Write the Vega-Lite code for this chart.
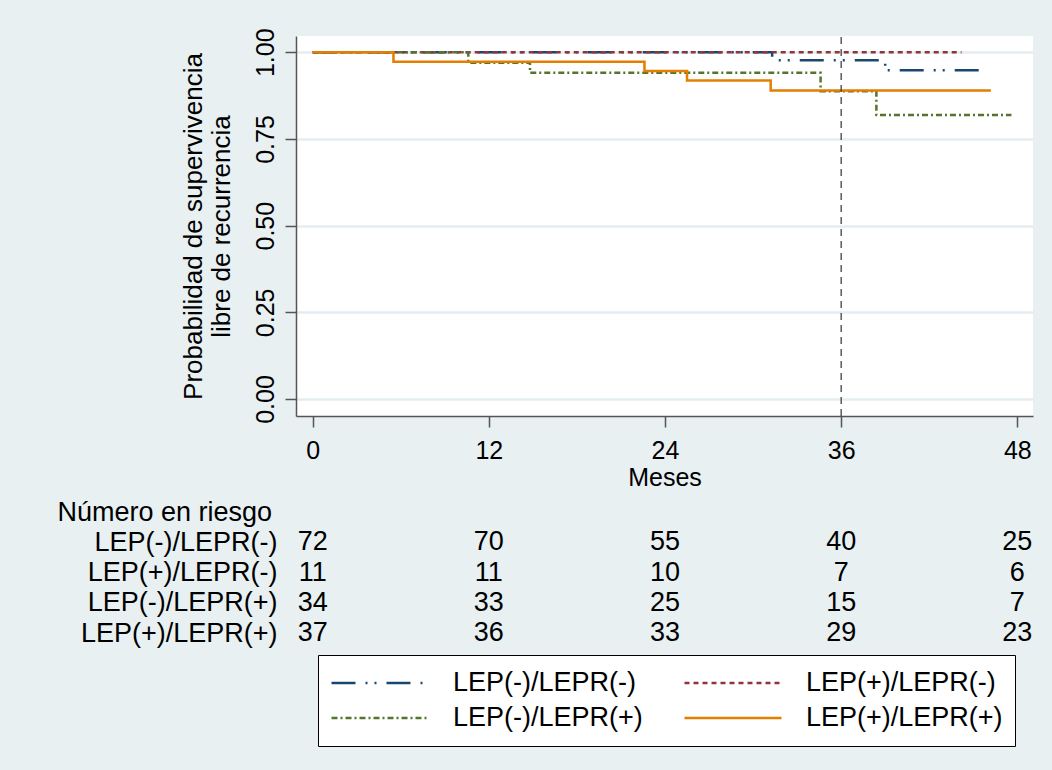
{
  "$schema": "https://vega.github.io/schema/vega-lite/v6.json",
  "width": 737,
  "height": 380,
  "autosize": {"type": "none"},
  "padding": {"left": 296, "top": 36, "right": 19, "bottom": 354},
  "background": "#e8f0f2",
  "config": {
    "font": "Liberation Sans",
    "view": {"fill": "white", "stroke": null},
    "axisX": {
      "tickSize": 11, "tickColor": "#555555", "tickWidth": 1.5,
      "domainColor": "#555555", "domainWidth": 1.5,
      "labelFontSize": 25, "labelColor": "black", "labelPadding": 11, "labelFlush": false,
      "grid": false,
      "titleFontSize": 25, "titleFontWeight": "normal", "titleColor": "black", "titlePadding": 2
    },
    "legend": {
      "orient": "none", "legendX": 22, "legendY": 619, "direction": "horizontal",
      "columns": 2, "symbolType": "stroke", "symbolSize": 9409, "symbolStrokeWidth": 2.5,
      "clipHeight": 32, "labelFontSize": 27, "labelColor": "black", "labelOffset": 23,
      "fillColor": "white", "strokeColor": "black", "padding": 12, "rowPadding": 3,
      "columnPadding": 40, "labelLimit": 400, "symbolOffset": 0
    }
  },
  "datasets": {
    "km": [
      {"grupo": "LEP(-)/LEPR(-)", "mes": 0, "prob": 1.0},
      {"grupo": "LEP(-)/LEPR(-)", "mes": 31.3, "prob": 0.977},
      {"grupo": "LEP(-)/LEPR(-)", "mes": 39.0, "prob": 0.948},
      {"grupo": "LEP(-)/LEPR(-)", "mes": 45.5, "prob": 0.948},
      {"grupo": "LEP(+)/LEPR(-)", "mes": 0, "prob": 1.0},
      {"grupo": "LEP(+)/LEPR(-)", "mes": 44.2, "prob": 1.0},
      {"grupo": "LEP(-)/LEPR(+)", "mes": 0, "prob": 1.0},
      {"grupo": "LEP(-)/LEPR(+)", "mes": 10.6, "prob": 0.970},
      {"grupo": "LEP(-)/LEPR(+)", "mes": 14.8, "prob": 0.941},
      {"grupo": "LEP(-)/LEPR(+)", "mes": 34.6, "prob": 0.888},
      {"grupo": "LEP(-)/LEPR(+)", "mes": 38.4, "prob": 0.819},
      {"grupo": "LEP(-)/LEPR(+)", "mes": 47.6, "prob": 0.819},
      {"grupo": "LEP(+)/LEPR(+)", "mes": 0, "prob": 1.0},
      {"grupo": "LEP(+)/LEPR(+)", "mes": 5.5, "prob": 0.973},
      {"grupo": "LEP(+)/LEPR(+)", "mes": 22.6, "prob": 0.946},
      {"grupo": "LEP(+)/LEPR(+)", "mes": 25.5, "prob": 0.919},
      {"grupo": "LEP(+)/LEPR(+)", "mes": 31.2, "prob": 0.890},
      {"grupo": "LEP(+)/LEPR(+)", "mes": 46.2, "prob": 0.890}
    ],
    "riesgo": [
      {"grupo": "LEP(-)/LEPR(-)", "mes": 0, "n": 72},
      {"grupo": "LEP(-)/LEPR(-)", "mes": 12, "n": 70},
      {"grupo": "LEP(-)/LEPR(-)", "mes": 24, "n": 55},
      {"grupo": "LEP(-)/LEPR(-)", "mes": 36, "n": 40},
      {"grupo": "LEP(-)/LEPR(-)", "mes": 48, "n": 25},
      {"grupo": "LEP(+)/LEPR(-)", "mes": 0, "n": 11},
      {"grupo": "LEP(+)/LEPR(-)", "mes": 12, "n": 11},
      {"grupo": "LEP(+)/LEPR(-)", "mes": 24, "n": 10},
      {"grupo": "LEP(+)/LEPR(-)", "mes": 36, "n": 7},
      {"grupo": "LEP(+)/LEPR(-)", "mes": 48, "n": 6},
      {"grupo": "LEP(-)/LEPR(+)", "mes": 0, "n": 34},
      {"grupo": "LEP(-)/LEPR(+)", "mes": 12, "n": 33},
      {"grupo": "LEP(-)/LEPR(+)", "mes": 24, "n": 25},
      {"grupo": "LEP(-)/LEPR(+)", "mes": 36, "n": 15},
      {"grupo": "LEP(-)/LEPR(+)", "mes": 48, "n": 7},
      {"grupo": "LEP(+)/LEPR(+)", "mes": 0, "n": 37},
      {"grupo": "LEP(+)/LEPR(+)", "mes": 12, "n": 36},
      {"grupo": "LEP(+)/LEPR(+)", "mes": 24, "n": 33},
      {"grupo": "LEP(+)/LEPR(+)", "mes": 36, "n": 29},
      {"grupo": "LEP(+)/LEPR(+)", "mes": 48, "n": 23}
    ]
  },
  "layer": [
    {
      "layer": [
        {
          "data": {"name": "km"},
          "mark": {"type": "line", "interpolate": "step-after", "strokeWidth": 2.5, "strokeCap": "butt"},
          "encoding": {
            "x": {"field": "mes", "type": "quantitative", "title": "Meses",
                  "axis": {"values": [0, 12, 24, 36, 48]},
                  "scale": {"domain": [-1.14, 49.07], "nice": false, "zero": false}},
            "y": {"field": "prob", "type": "quantitative",
                  "scale": {"domain": [-0.049, 1.047], "nice": false, "zero": false},
                  "axis": {
                    "values": [0, 0.25, 0.5, 0.75, 1], "format": ".2f",
                    "labelAngle": 270, "labelAlign": "center", "labelBaseline": "bottom",
                    "labelFontSize": 25, "labelColor": "black", "labelPadding": 7, "labelFlush": false,
                    "tickSize": 11, "tickColor": "#555555", "tickWidth": 1.5,
                    "domainColor": "#555555", "domainWidth": 1.5,
                    "grid": true, "gridColor": "#e4edf0", "gridWidth": 2.5,
                    "title": ["Probabilidad de supervivencia", "libre de recurrencia"],
                    "titleFontSize": 26, "titleFontWeight": "normal", "titleColor": "black",
                    "titleLineHeight": 28, "titlePadding": 19
                  }},
            "color": {"field": "grupo", "type": "nominal", "legend": {"title": null},
                      "scale": {"domain": ["LEP(-)/LEPR(-)", "LEP(+)/LEPR(-)", "LEP(-)/LEPR(+)", "LEP(+)/LEPR(+)"],
                                "range": ["#1a476f", "#90353b", "#55752f", "#e37e00"]}},
            "strokeDash": {"field": "grupo", "type": "nominal", "legend": {"title": null},
                      "scale": {"domain": ["LEP(-)/LEPR(-)", "LEP(+)/LEPR(-)", "LEP(-)/LEPR(+)", "LEP(+)/LEPR(+)"],
                                "range": [[24, 10, 2, 7, 2, 10], [5, 4], [6, 3, 2, 3], [1, 0]]}}
          }
        },
        {
          "data": {"values": [{"mes": 36}]},
          "mark": {"type": "rule", "strokeDash": [7, 5], "color": "#333333", "strokeWidth": 1.2},
          "encoding": {
            "x": {"field": "mes", "type": "quantitative", "title": "Meses",
                  "axis": {"values": [0, 12, 24, 36, 48]},
                  "scale": {"domain": [-1.14, 49.07], "nice": false, "zero": false}},
            "y": {"datum": -0.049},
            "y2": {"datum": 1.047}
          }
        },
        {
          "mark": {"type": "text", "align": "left", "baseline": "middle", "fontSize": 20, "color": "black"},
          "encoding": {
            "x": {"datum": 4.9},
            "y": {"datum": 0.56},
            "text": {"value": "p=0.173 prueba de Log-Rank"}
          }
        }
      ]
    },
    {
      "data": {"name": "riesgo"},
      "mark": {"type": "text", "fontSize": 27, "color": "black", "align": "center", "baseline": "middle"},
      "encoding": {
        "x": {"field": "mes", "type": "quantitative", "title": "Meses",
              "axis": {"values": [0, 12, 24, 36, 48]},
              "scale": {"domain": [-1.14, 49.07], "nice": false, "zero": false}},
        "y": {"field": "grupo", "type": "nominal",
              "scale": {"type": "point", "padding": 0, "range": [476, 597],
                        "domain": ["Número en riesgo", "LEP(-)/LEPR(-)", "LEP(+)/LEPR(-)", "LEP(-)/LEPR(+)", "LEP(+)/LEPR(+)"]},
              "axis": {
                "orient": "left", "title": null, "domain": false, "ticks": false, "tickSize": 0, "grid": false,
                "labelFontSize": 27, "labelColor": "black", "labelBaseline": "middle", "labelLimit": 400,
                "labelAlign": {"condition": {"test": "datum.value === 'Número en riesgo'", "value": "left"}, "value": "right"},
                "labelPadding": {"condition": {"test": "datum.value === 'Número en riesgo'", "value": 239}, "value": 19}
              }},
        "text": {"field": "n", "type": "quantitative"}
      }
    }
  ],
  "resolve": {"scale": {"y": "independent"}}
}
